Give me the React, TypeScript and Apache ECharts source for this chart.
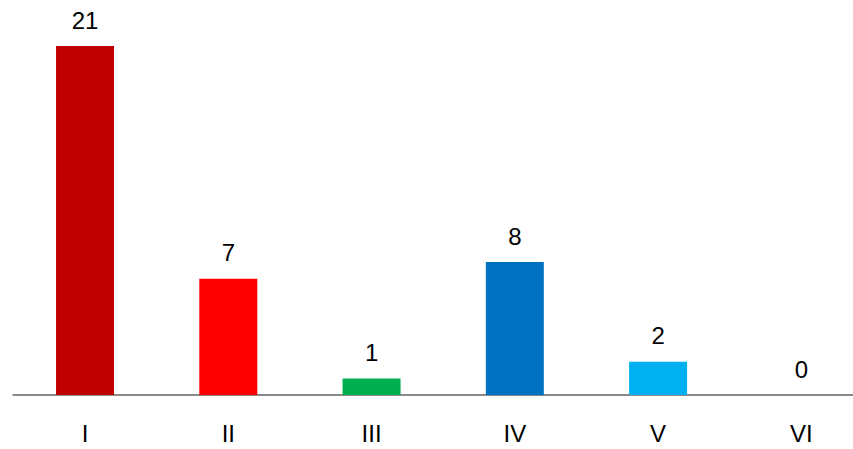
import React, { useEffect, useRef } from "react";
import * as echarts from "echarts";

const categories = ["I", "II", "III", "IV", "V", "VI"];
const values = [21, 7, 1, 8, 2, 0];
const barColors = ["#C00000", "#FF0000", "#00B050", "#0070C0", "#00B0F0", "#7F7F7F"];

export default function App() {
  const ref = useRef<HTMLDivElement>(null);
  useEffect(() => {
    if (!ref.current) return;
    const chart = echarts.init(ref.current, null, { renderer: "svg" });
    chart.setOption({
      animation: false,
      backgroundColor: "#ffffff",
      textStyle: { fontFamily: "Liberation Sans, Arial, sans-serif" },
      grid: { left: 13.4, right: 0, top: 46, bottom: 54, containLabel: false },
      xAxis: {
        type: "category",
        data: categories,
        axisLine: { show: true, lineStyle: { color: "#898989", width: 2 } },
        axisTick: { show: false },
        axisLabel: { color: "#000000", fontSize: 24, margin: 26, fontFamily: "Liberation Sans, Arial, sans-serif" },
      },
      yAxis: {
        type: "value",
        min: 0,
        max: 21,
        show: false,
        splitLine: { show: false },
      },
      series: [
        {
          type: "bar",
          barWidth: 58,
          data: values.map((v, i) => ({ value: v, itemStyle: { color: barColors[i] } })),
          label: {
            show: true,
            position: "top",
            distance: 14,
            color: "#000000",
            fontSize: 24,
            fontFamily: "Liberation Sans, Arial, sans-serif",
          },
        },
      ],
    });
    return () => chart.dispose();
  }, []);
  return (
    <div style={{ position: "fixed", left: 0, top: 0, width: 853, height: 449, overflow: "hidden", background: "#fff" }}>
      <div ref={ref} style={{ width: 873, height: 449 }} />
    </div>
  );
}
